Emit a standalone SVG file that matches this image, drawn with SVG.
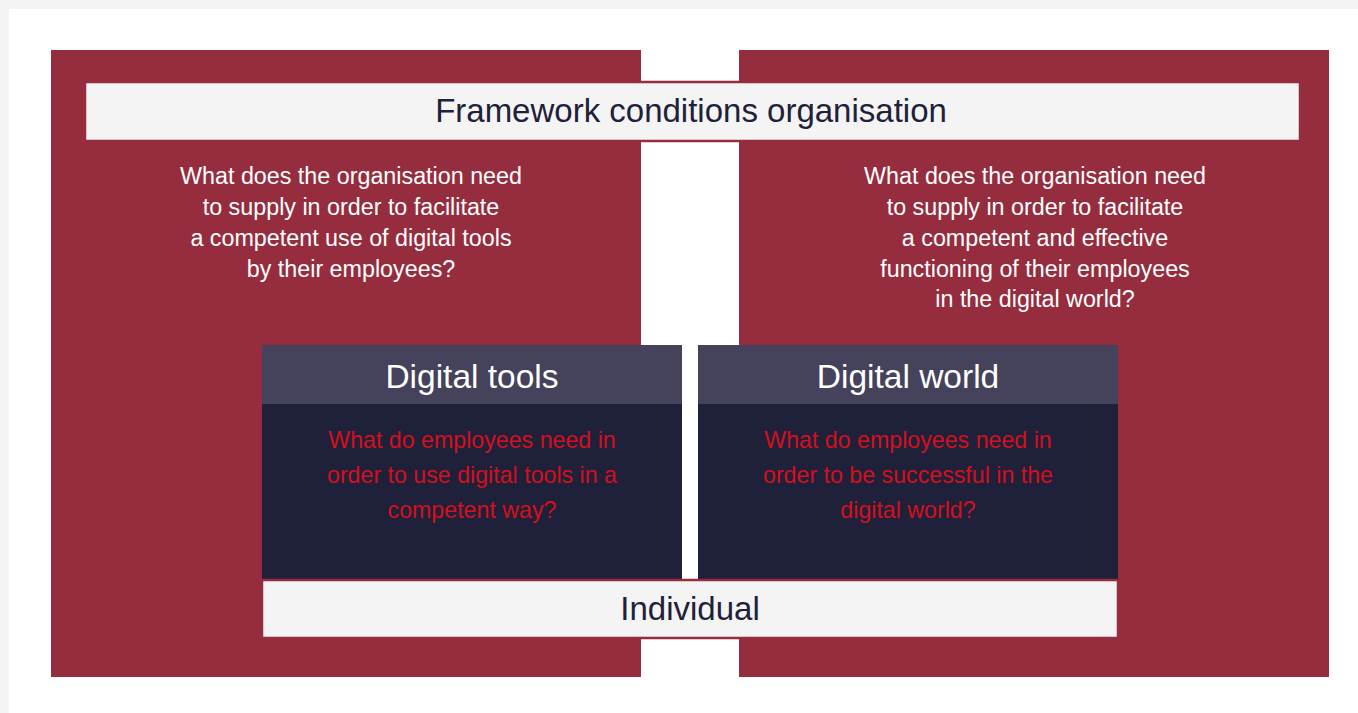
<svg xmlns="http://www.w3.org/2000/svg" width="1358" height="713" viewBox="0 0 1358 713">
<style>
.q{font-family:"Liberation Sans",Arial,sans-serif;font-size:23.3px;fill:#ffffff;text-anchor:middle}
.r{font-family:"Liberation Sans",Arial,sans-serif;font-size:23.2px;fill:#d40f1e;text-anchor:middle}
.h{font-family:"Liberation Sans",Arial,sans-serif;font-size:33.5px;fill:#ffffff;text-anchor:middle}
.b{font-family:"Liberation Sans",Arial,sans-serif;font-size:33px;fill:#1e2139;text-anchor:middle}
.panel{fill:#962d3e}
.bar{fill:#f4f4f4;stroke:#962d3e;stroke-width:2.5}
.head{fill:#45425b}
.body{fill:#1e2139}
</style>
<rect x="0" y="0" width="1358" height="713" fill="#f4f4f4"/>
<rect x="9" y="9" width="1349" height="704" fill="#ffffff"/>
<g id="org-left">
<rect class="panel" x="51" y="50" width="590" height="627"/>
<text class="q" x="351" y="184">What does the organisation need</text>
<text class="q" x="351" y="215">to supply in order to facilitate</text>
<text class="q" x="351" y="246">a competent use of digital tools</text>
<text class="q" x="351" y="277">by their employees?</text>
</g>
<g id="org-right">
<rect class="panel" x="739" y="50" width="590" height="627"/>
<text class="q" x="1035" y="184">What does the organisation need</text>
<text class="q" x="1035" y="215">to supply in order to facilitate</text>
<text class="q" x="1035" y="246">a competent and effective</text>
<text class="q" x="1035" y="277">functioning of their employees</text>
<text class="q" x="1035" y="307">in the digital world?</text>
</g>
<g id="framework">
<rect class="bar" x="85" y="82" width="1215" height="59"/>
<text class="b" x="691" y="122">Framework conditions organisation</text>
</g>
<g id="digital-tools">
<rect class="head" x="262" y="345" width="420" height="59"/>
<rect class="body" x="262" y="404" width="420" height="176"/>
<text class="h" x="472" y="388">Digital tools</text>
<text class="r" x="472" y="448">What do employees need in</text>
<text class="r" x="472" y="483">order to use digital tools in a</text>
<text class="r" x="472" y="518">competent way?</text>
</g>
<g id="digital-world">
<rect class="head" x="698" y="345" width="420" height="59"/>
<rect class="body" x="698" y="404" width="420" height="176"/>
<text class="h" x="908" y="388">Digital world</text>
<text class="r" x="908" y="448">What do employees need in</text>
<text class="r" x="908" y="483">order to be successful in the</text>
<text class="r" x="908" y="518">digital world?</text>
</g>
<g id="individual">
<rect class="bar" x="262" y="580" width="856" height="58"/>
<text class="b" x="690" y="620">Individual</text>
</g>
<g id="connectors"></g>
</svg>
